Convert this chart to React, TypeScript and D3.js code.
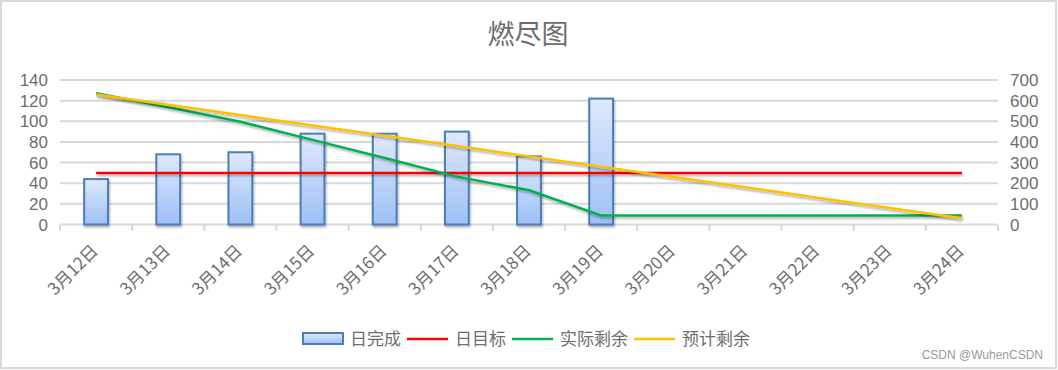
import React from 'react';
import * as d3 from 'd3';

// burndown data
const days = ['3月12日', '3月13日', '3月14日', '3月15日', '3月16日', '3月17日', '3月18日',
  '3月19日', '3月20日', '3月21日', '3月22日', '3月23日', '3月24日'];
const dailyDone = [44, 68, 70, 88, 88, 90, 66, 122];
const dailyTarget = [50, 50, 50, 50, 50, 50, 50, 50, 50, 50, 50, 50, 50];
const actualLeft = [636, 568, 498, 410, 322, 232, 166, 44, 44, 44, 44, 44, 44];
const plannedLeft = [630, 580, 530, 480, 430, 380, 330, 280, 230, 180, 130, 80, 30];
const leftTicks = [0, 20, 40, 60, 80, 100, 120, 140];
const rightTicks = [0, 100, 200, 300, 400, 500, 600, 700];

const W = 1058;
const H = 370;
const FONT = '"Noto Sans CJK SC", "Noto Sans", sans-serif';
const NUM_FONT = '"Liberation Sans", Arial, sans-serif';
const TXT = '#6e6e6e';

export default function App() {
  const x = d3.scaleBand<string>().domain(days).range([60, 998]);
  const yL = d3.scaleLinear().domain([0, 140]).range([224.5, 80]);
  const yR = d3.scaleLinear().domain([0, 700]).range([224.5, 80]);
  const cx = (d: string) => (x(d) as number) + x.bandwidth() / 2;
  const barW = x.bandwidth() * 0.33;

  const lineL = d3.line<number>().x((_, i) => cx(days[i])).y(v => yL(v));
  const lineR = d3.line<number>().x((_, i) => cx(days[i])).y(v => yR(v));

  const legend = [
    { name: '日完成', kind: 'bar', color: '#4a7ebb' },
    { name: '日目标', kind: 'line', color: '#ff0000' },
    { name: '实际剩余', kind: 'line', color: '#00b050' },
    { name: '预计剩余', kind: 'line', color: '#ffc000' },
  ];
  let lx = 302;
  const legendItems = legend.map(l => {
    const item = { ...l, x: lx };
    lx += 48 + l.name.length * 17 + 6;
    return item;
  });

  return (
    <svg width={W} height={H} style={{ position: 'absolute', left: 0, top: 0, fontFamily: FONT }}>
      <defs>
        <linearGradient id="barGrad" x1="0" y1="0" x2="0" y2="1">
          <stop offset="0%" stopColor="#dfe9fc" />
          <stop offset="100%" stopColor="#9ec0f6" />
        </linearGradient>
        <filter id="shadow" filterUnits="userSpaceOnUse" x="0" y="0" width={W} height={H}>
          <feDropShadow dx="1" dy="2" stdDeviation="1.2" floodColor="#000" floodOpacity="0.3" />
        </filter>
      </defs>
      <rect x={1} y={1} width={W - 3} height={H - 3} fill="#fff" stroke="#d9d9d9" strokeWidth={2} />

      <text x={528} y={44} textAnchor="middle" fontSize={27} fill={TXT}>燃尽图</text>

      {/* gridlines */}
      {leftTicks.map(t => (
        <line key={t} x1={60} x2={998} y1={yL(t)} y2={yL(t)} stroke="#d9d9d9" strokeWidth={2} />
      ))}
      {leftTicks.map(t => (
        <text key={'l' + t} x={48} y={yL(t) + 6} textAnchor="end" fontSize={17} fontFamily={NUM_FONT} fill={TXT}>{t}</text>
      ))}
      {rightTicks.map(t => (
        <text key={'r' + t} x={1010} y={yR(t) + 6} textAnchor="start" fontSize={17} fontFamily={NUM_FONT} fill={TXT}>{t}</text>
      ))}

      {/* x axis ticks */}
      {days.concat(['end']).map((d, i) => {
        const tx = 60 + i * x.bandwidth();
        return <line key={d} x1={tx} x2={tx} y1={224.5} y2={231} stroke="#d9d9d9" strokeWidth={2} />;
      })}
      {days.map(d => (
        <text key={d} transform={`translate(${cx(d) + 3},${252}) rotate(-45)`} textAnchor="end"
          fontSize={17} fill={TXT}>{d}</text>
      ))}

      {/* bars */}
      {dailyDone.map((v, i) => (
        <rect key={i} x={cx(days[i]) - barW / 2} y={yL(v)} width={barW} height={yL(0) - yL(v)}
          fill="url(#barGrad)" stroke="#4a7ebb" strokeWidth={2} filter="url(#shadow)" />
      ))}

      <path d={lineL(dailyTarget) || ''} fill="none" stroke="#ff0000" strokeWidth={2.5} filter="url(#shadow)" />
      <path d={lineR(actualLeft) || ''} fill="none" stroke="#00b050" strokeWidth={2.5} filter="url(#shadow)" />
      <path d={lineR(plannedLeft) || ''} fill="none" stroke="#ffc000" strokeWidth={2.5} filter="url(#shadow)" />

      {/* legend */}
      {legendItems.map(l => (
        <g key={l.name}>
          {l.kind === 'bar' ? (
            <rect x={l.x + 1} y={333} width={40} height={11} fill="url(#barGrad)" stroke={l.color} strokeWidth={2} />
          ) : (
            <line x1={l.x} x2={l.x + 41} y1={339} y2={339} stroke={l.color} strokeWidth={2.5} />
          )}
          <text x={l.x + 48} y={345} fontSize={17} fill={TXT}>{l.name}</text>
        </g>
      ))}

      <text x={1043} y={359} textAnchor="end" fontSize={12} fill="#999" fontFamily={NUM_FONT}>CSDN @WuhenCSDN</text>
    </svg>
  );
}
